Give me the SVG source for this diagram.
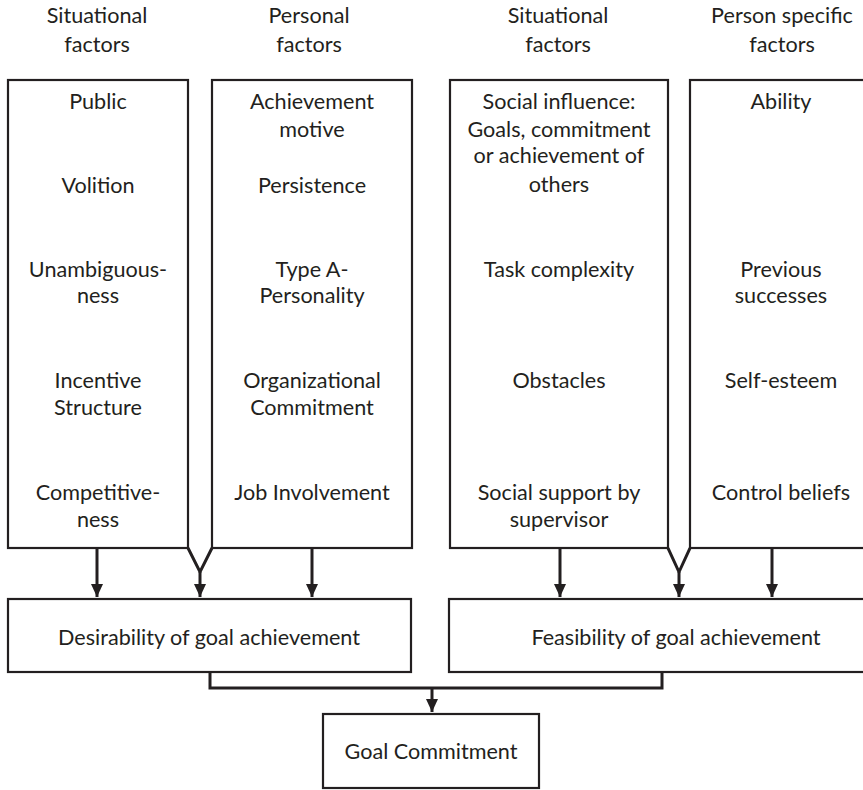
<svg xmlns="http://www.w3.org/2000/svg" width="863" height="790" viewBox="0 0 863 790">
  <style>
    .box { fill: #ffffff; stroke: #231f20; stroke-width: 2.2; }
    .lbl { font-family: Lato, "Open Sans", "Liberation Sans", sans-serif; font-size: 21.6px; fill: #231f20; text-anchor: middle; }
    .wire { fill: none; stroke: #231f20; stroke-width: 3; stroke-linejoin: miter; }
  </style>
  <defs>
    <!-- arrowhead drawn pointing along +x so orient="auto" follows the line -->
    <marker id="arrow" markerWidth="13" markerHeight="12" refX="13" refY="6" orient="auto" markerUnits="userSpaceOnUse" viewBox="0 0 13 12">
      <path d="M0,0 L13,6 L0,12 Z" fill="#231f20"/>
    </marker>
  </defs>
  <rect width="863" height="790" fill="#ffffff"/>

  <!-- column headings -->
  <g id="heading-situational-1">
    <text class="lbl" x="97" y="23">Situational</text>
    <text class="lbl" x="97" y="52">factors</text>
  </g>
  <g id="heading-personal">
    <text class="lbl" x="309" y="23">Personal</text>
    <text class="lbl" x="309" y="52">factors</text>
  </g>
  <g id="heading-situational-2">
    <text class="lbl" x="558" y="23">Situational</text>
    <text class="lbl" x="558" y="52">factors</text>
  </g>
  <g id="heading-person-specific">
    <text class="lbl" x="782" y="23">Person specific</text>
    <text class="lbl" x="782" y="52">factors</text>
  </g>

  <!-- factor columns -->
  <g id="col-situational-desirability">
    <rect class="box" x="8" y="80" width="180" height="468"/>
    <text class="lbl" x="98" y="109">Public</text>
    <text class="lbl" x="98" y="193">Volition</text>
    <text class="lbl" x="98" y="277">Unambiguous-</text>
    <text class="lbl" x="98" y="303">ness</text>
    <text class="lbl" x="98" y="388">Incentive</text>
    <text class="lbl" x="98" y="415">Structure</text>
    <text class="lbl" x="98" y="500">Competitive-</text>
    <text class="lbl" x="98" y="527">ness</text>
  </g>
  <g id="col-personal">
    <rect class="box" x="212" y="80" width="200" height="468"/>
    <text class="lbl" x="312" y="109">Achievement</text>
    <text class="lbl" x="312" y="137">motive</text>
    <text class="lbl" x="312" y="193">Persistence</text>
    <text class="lbl" x="312" y="277">Type A-</text>
    <text class="lbl" x="312" y="303">Personality</text>
    <text class="lbl" x="312" y="388">Organizational</text>
    <text class="lbl" x="312" y="415">Commitment</text>
    <text class="lbl" x="312" y="500">Job Involvement</text>
  </g>
  <g id="col-situational-feasibility">
    <rect class="box" x="450" y="80" width="218" height="468"/>
    <text class="lbl" x="559" y="109">Social influence:</text>
    <text class="lbl" x="559" y="137">Goals, commitment</text>
    <text class="lbl" x="559" y="163">or achievement of</text>
    <text class="lbl" x="559" y="192">others</text>
    <text class="lbl" x="559" y="277">Task complexity</text>
    <text class="lbl" x="559" y="388">Obstacles</text>
    <text class="lbl" x="559" y="500">Social support by</text>
    <text class="lbl" x="559" y="527">supervisor</text>
  </g>
  <g id="col-person-specific">
    <rect class="box" x="690" y="80" width="185" height="468"/>
    <text class="lbl" x="781" y="109">Ability</text>
    <text class="lbl" x="781" y="277">Previous</text>
    <text class="lbl" x="781" y="303">successes</text>
    <text class="lbl" x="781" y="388">Self-esteem</text>
    <text class="lbl" x="781" y="500">Control beliefs</text>
  </g>

  <!-- outcome boxes -->
  <g id="desirability">
    <rect class="box" x="8" y="599" width="403" height="73"/>
    <text class="lbl" x="209" y="645">Desirability of goal achievement</text>
  </g>
  <g id="feasibility">
    <rect class="box" x="449" y="599" width="425" height="73"/>
    <text class="lbl" x="676" y="645">Feasibility of goal achievement</text>
  </g>
  <g id="goal-commitment">
    <rect class="box" x="323" y="714" width="216" height="74"/>
    <text class="lbl" x="431" y="759">Goal Commitment</text>
  </g>

  <!-- connectors -->
  <g id="connectors">
    <path class="wire" d="M97,548 V597" marker-end="url(#arrow)"/>
    <path class="wire" d="M188,548 L200,572 L212,548"/>
    <path class="wire" d="M200,572 V597" marker-end="url(#arrow)"/>
    <path class="wire" d="M312,548 V597" marker-end="url(#arrow)"/>
    <path class="wire" d="M560,548 V597" marker-end="url(#arrow)"/>
    <path class="wire" d="M668,548 L679,572 L690,548"/>
    <path class="wire" d="M679,572 V597" marker-end="url(#arrow)"/>
    <path class="wire" d="M772,548 V597" marker-end="url(#arrow)"/>
    <path class="wire" d="M210,672 V688 H662 V672"/>
    <path class="wire" d="M432,688 V712" marker-end="url(#arrow)"/>
  </g>
</svg>
